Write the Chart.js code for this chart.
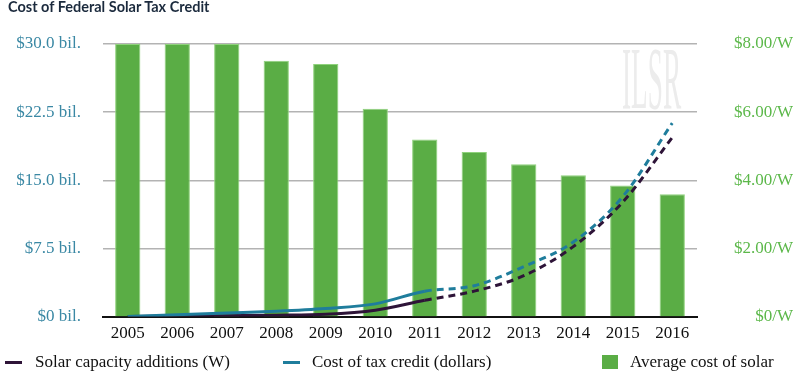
<!DOCTYPE html>
<html>
<head>
<meta charset="utf-8">
<script src="https://cdn.jsdelivr.net/npm/chart.js@4/dist/chart.umd.min.js"></script>
<style>
  html, body { margin: 0; padding: 0; background: #fff; }
  #wrap { position: relative; width: 793px; height: 386px; }
  #c { position: absolute; left: 0; top: 0; }
  #title { position: absolute; left: 8px; top: -2px; font-family: Lato, "Noto Sans", sans-serif; font-weight: bold; font-size: 14.5px; line-height: 18px; color: #1b2a3d; white-space: nowrap; }
  .leg { position: absolute; top: 350px; font-family: "Liberation Serif", "Times New Roman", serif; font-size: 17px; color: #111; line-height: 24px; white-space: nowrap; }
  .mk-line { position: absolute; width: 17px; height: 3px; top: 11px; }
  .mk-box { position: absolute; width: 16px; height: 14px; top: 5px; background: #5aad45; }
</style>
</head>
<body>
<div id="wrap">
  <canvas id="c" width="793" height="386"></canvas>
  <div id="title">Cost of Federal Solar Tax Credit</div>
  <div class="leg" style="left:5px;"><span class="mk-line" style="left:0;background:#2e1438;"></span><span style="position:absolute;left:30px;">Solar capacity additions (W)</span></div>
  <div class="leg" style="left:283px;"><span class="mk-line" style="left:0;background:#1f7d9c;"></span><span style="position:absolute;left:29px;">Cost of tax credit (dollars)</span></div>
  <div class="leg" style="left:602px;"><span class="mk-box" style="left:0;"></span><span style="position:absolute;left:28px;">Average cost of solar</span></div>
</div>
<script>
const years = ['2005','2006','2007','2008','2009','2010','2011','2012','2013','2014','2015','2016'];
const capacityBil = [0, 0.05, 0.1, 0.15, 0.25, 0.7, 1.8, 2.8, 4.5, 7.7, 12.6, 19.7];
const taxCreditBil = [0, 0.2, 0.4, 0.6, 0.9, 1.4, 2.8, 3.4, 5.5, 8.2, 13.2, 21.3];
const avgCostPerW = [8.0, 8.0, 8.0, 7.51, 7.41, 6.1, 5.2, 4.83, 4.47, 4.15, 3.85, 3.59];
const leftTickLabels = ['$0 bil.', '$7.5 bil.', '$15.0 bil.', '$22.5 bil.', '$30.0 bil.'];
const rightTickLabels = ['$0/W', '$2.00/W', '$4.00/W', '$6.00/W', '$8.00/W'];
const projectedFromIndex = 6;

const dashSeg = { borderDash: ctx => ctx.p0DataIndex >= projectedFromIndex ? [7, 5] : undefined };

const watermark = {
  id: 'watermark',
  beforeDatasetsDraw(chart) {
    const ctx = chart.ctx;
    ctx.save();
    ctx.fillStyle = '#ececec';
    ctx.font = '88px "Liberation Serif", serif';
    ctx.textBaseline = 'alphabetic';
    ctx.translate(622, 108);
    ctx.scale(0.31, 1);
    ctx.fillText('ILSR', 0, 0);
    ctx.restore();
  }
};

new Chart(document.getElementById('c'), {
  data: {
    labels: years,
    datasets: [
      {
        type: 'line', label: 'Solar capacity additions (W)', data: capacityBil, yAxisID: 'y',
        borderColor: '#2e1438', borderWidth: 3, pointRadius: 0, cubicInterpolationMode: 'monotone',
        segment: dashSeg, order: 1
      },
      {
        type: 'line', label: 'Cost of tax credit (dollars)', data: taxCreditBil, yAxisID: 'y',
        borderColor: '#1f7d9c', borderWidth: 3, pointRadius: 0, cubicInterpolationMode: 'monotone',
        segment: dashSeg, order: 0
      },
      {
        type: 'bar', label: 'Average cost of solar', data: avgCostPerW, yAxisID: 'y1',
        backgroundColor: '#5aad45', borderColor: '#8fd27c', borderWidth: 1,
        barPercentage: 0.51, categoryPercentage: 1.0, order: 2
      }
    ]
  },
  options: {
    responsive: false,
    animation: false,
    layout: { padding: { top: 44, bottom: 35, left: 0, right: 0 } },
    plugins: {
      legend: { display: false },
      tooltip: { enabled: false },
      title: { display: false }
    },
    scales: {
      x: {
        grid: { display: false, drawTicks: false },
        border: { color: '#111', width: 2 },
        ticks: { color: '#111', font: { family: '"Liberation Serif"', size: 17 }, padding: 7, maxRotation: 0 }
      },
      y: {
        position: 'left', min: 0, max: 30,
        afterFit(s) { s.width = 103; },
        afterBuildTicks(s) { s.ticks = [0, 7.5, 15, 22.5, 30].map(v => ({ value: v })); },
        grid: { color: '#b3b3b3', lineWidth: 1.5, drawTicks: false },
        border: { display: false },
        ticks: { color: '#3a88a4', font: { family: '"Liberation Serif"', size: 17 }, padding: 22,
          callback: (v, i) => leftTickLabels[i] }
      },
      y1: {
        position: 'right', min: 0, max: 8,
        afterFit(s) { s.width = 96; },
        afterBuildTicks(s) { s.ticks = [0, 2, 4, 6, 8].map(v => ({ value: v })); },
        grid: { display: false, drawTicks: false },
        border: { display: false },
        ticks: { color: '#5cb84a', font: { family: '"Liberation Serif"', size: 17 }, padding: 20, crossAlign: 'far',
          callback: (v, i) => rightTickLabels[i] }
      }
    }
  },
  plugins: [watermark]
});
</script>
</body>
</html>
